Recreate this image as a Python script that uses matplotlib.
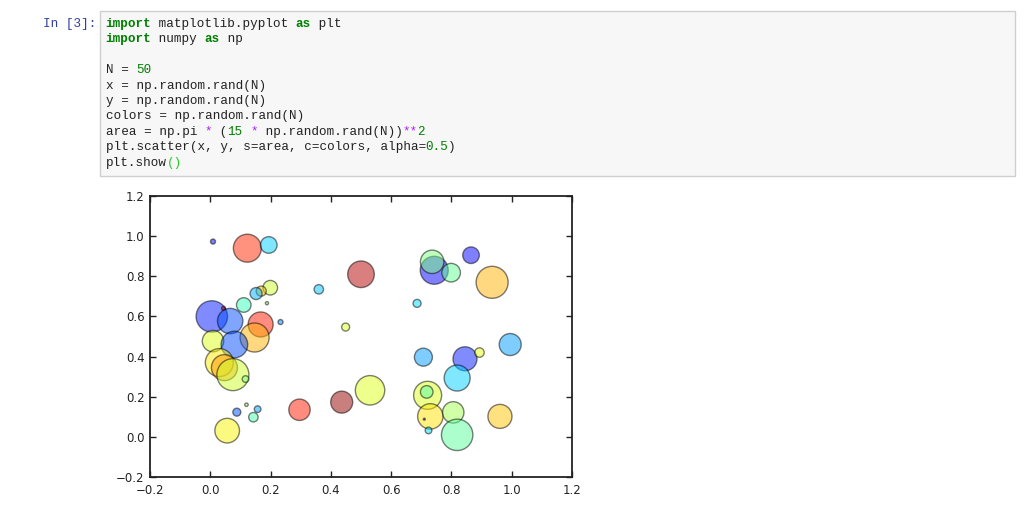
import matplotlib
matplotlib.use('Agg')
from matplotlib import pyplot as plt
from matplotlib.patches import Rectangle

# scatter values
x = [0.009, 0.123, 0.194, 0.199, 0.169, 0.152, 0.188, 0.111, 0.005, 0.044,
     0.066, 0.167, 0.147, 0.233, 0.009, 0.080, 0.030, 0.047, 0.075, 0.117,
     0.120, 0.088, 0.157, 0.143, 0.056, 0.296, 0.436, 0.530, 0.707, 0.845,
     0.893, 0.995, 0.819, 0.721, 0.718, 0.730, 0.710, 0.724, 0.806, 0.819,
     0.961, 0.500, 0.686, 0.449, 0.360, 0.743, 0.736, 0.799, 0.865, 0.935]
y = [0.973, 0.940, 0.956, 0.743, 0.726, 0.714, 0.666, 0.657, 0.600, 0.640,
     0.577, 0.560, 0.495, 0.572, 0.477, 0.460, 0.370, 0.345, 0.310, 0.288,
     0.160, 0.123, 0.138, 0.098, 0.031, 0.135, 0.173, 0.232, 0.397, 0.389,
     0.420, 0.460, 0.293, 0.207, 0.224, 0.102, 0.088, 0.032, 0.122, 0.010,
     0.102, 0.810, 0.665, 0.547, 0.735, 0.830, 0.872, 0.818, 0.905, 0.770]
colors = [0.10, 0.87, 0.33, 0.60, 0.70, 0.30, 0.55, 0.42, 0.15, 0.95,
          0.20, 0.88, 0.72, 0.25, 0.62, 0.20, 0.66, 0.75, 0.60, 0.50,
          0.55, 0.20, 0.28, 0.44, 0.65, 0.88, 0.98, 0.62, 0.28, 0.15,
          0.63, 0.28, 0.33, 0.62, 0.45, 0.67, 0.10, 0.34, 0.55, 0.46,
          0.70, 0.95, 0.34, 0.62, 0.32, 0.12, 0.50, 0.47, 0.12, 0.72]
area = [13, 406, 143, 110, 52, 75, 5, 110, 511, 8,
        334, 324, 436, 13, 237, 367, 406, 350, 531, 23,
        6, 33, 23, 46, 314, 237, 251, 448, 168, 299,
        46, 251, 350, 406, 82, 334, 2, 23, 237, 511,
        299, 367, 33, 33, 46, 406, 284, 179, 143, 531]

xticks = [-0.2, 0.0, 0.2, 0.4, 0.6, 0.8, 1.0, 1.2]
yticks = [-0.2, 0.0, 0.2, 0.4, 0.6, 0.8, 1.0, 1.2]

# notebook cell source, as (text, colour, bold) pieces
KW = '#008000'
NUM = '#008000'
OP = '#aa22ff'
TXT = '#222222'
code_lines = [
    [('import', KW, True), (' matplotlib.pyplot ', TXT, False), ('as', KW, True), (' plt', TXT, False)],
    [('import', KW, True), (' numpy ', TXT, False), ('as', KW, True), (' np', TXT, False)],
    [],
    [('N = ', TXT, False), ('50', NUM, False)],
    [('x = np.random.rand(N)', TXT, False)],
    [('y = np.random.rand(N)', TXT, False)],
    [('colors = np.random.rand(N)', TXT, False)],
    [('area = np.pi ', TXT, False), ('*', OP, False), (' (', TXT, False), ('15', NUM, False),
     (' ', TXT, False), ('*', OP, False), (' np.random.rand(N))', TXT, False), ('**', OP, False), ('2', NUM, False)],
    [('plt.scatter(x, y, s=area, c=colors, alpha=', TXT, False), ('0.5', NUM, False), (')', TXT, False)],
    [('plt.show', TXT, False), ('()', '#22cc22', False)],
]

W, H = 1024, 512
fig = plt.figure(figsize=(W / 100, H / 100), dpi=100)
fig.patch.set_facecolor('white')

def fx(px):
    return px / W

def fy(py):
    return 1 - py / H

# code cell box
fig.patches.append(Rectangle((fx(100), fy(176)), fx(1015) - fx(100), fy(11) - fy(176),
                             transform=fig.transFigure, facecolor='#f7f7f7',
                             edgecolor='#cfcfcf', linewidth=1))
fig.text(fx(96), fy(24), 'In [3]:', ha='right', va='center', color='#303f9f',
         family='Liberation Mono', fontsize=9.1)

cw = 7.6
lh = 15.4
for i, line in enumerate(code_lines):
    col = 0
    for txt, c, b in line:
        fig.text(fx(105.7 + col * cw), fy(24 + i * lh), txt, ha='left', va='center',
                 color=c, family='Liberation Mono', fontsize=9.1,
                 fontweight='bold' if b else 'normal')
        col += len(txt)

ax = fig.add_axes([fx(150), fy(477), fx(572) - fx(150), fy(196) - fy(477)])
ax.scatter(x, y, s=area, c=colors, cmap='jet', vmin=0, vmax=1, alpha=0.5,
           edgecolors='k', linewidths=1)
ax.set_xlim(-0.2, 1.2)
ax.set_ylim(-0.2, 1.2)
ax.set_xticks(xticks)
ax.set_yticks(yticks)
ax.set_xticklabels(['%.1f' % t if t >= 0 else '\u22120.2' for t in xticks])
ax.set_yticklabels(['%.1f' % t if t >= 0 else '\u22120.2' for t in yticks])
ax.tick_params(direction='in', length=4, width=1, top=True, right=True,
               labelsize=8.5, colors='#222222')
ax.tick_params(axis='x', pad=5)
ax.tick_params(axis='y', pad=4)
for s in ax.spines.values():
    s.set_linewidth(1.3)
    s.set_color('#222222')

fig.savefig('out.png', dpi=100)
